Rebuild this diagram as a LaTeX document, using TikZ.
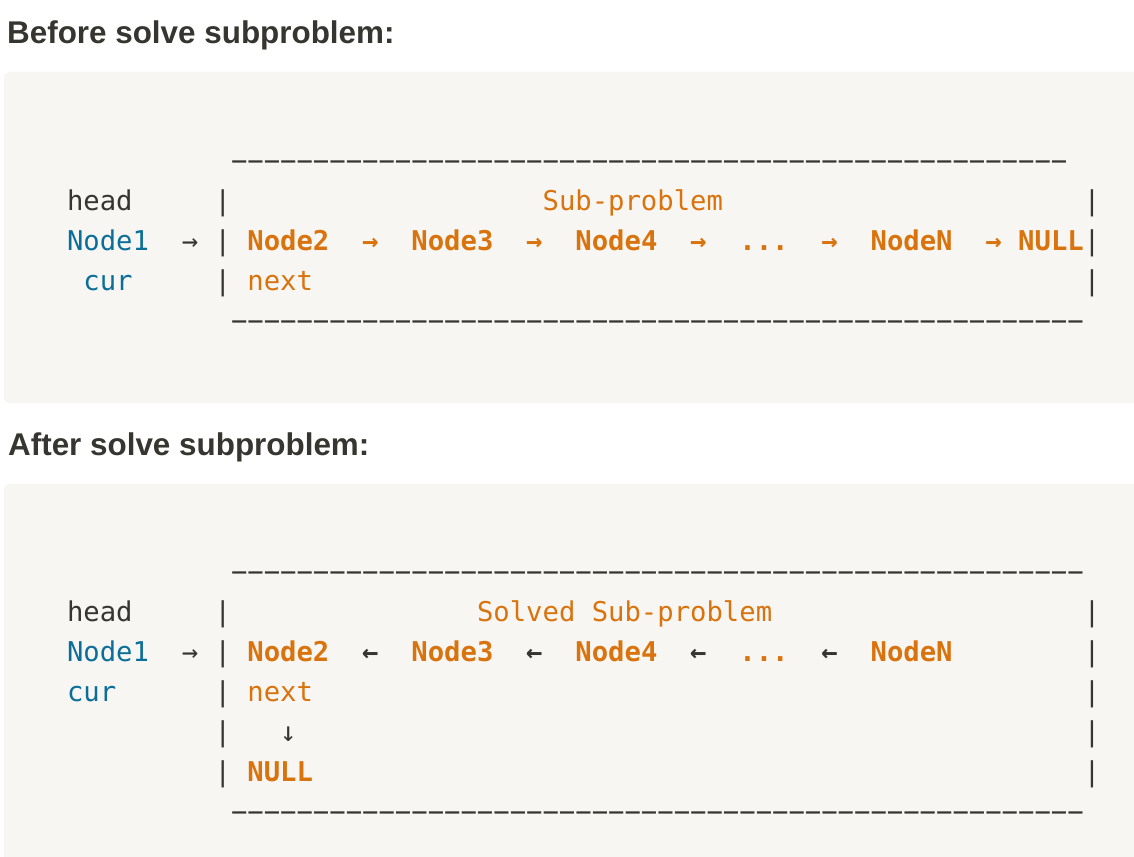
\documentclass[tikz,border=0pt]{standalone}
\usepackage{fontspec}
\setmainfont{Liberation Sans}
\newfontfamily\codefont{DejaVu Sans Mono}
\definecolor{pagebg}{HTML}{FFFFFF}
\definecolor{blockbg}{HTML}{F7F6F3}
\definecolor{headtext}{HTML}{37352F}
\definecolor{codedark}{HTML}{37352F}
\definecolor{nblue}{HTML}{0B6E99}
\definecolor{norange}{HTML}{D9730D}
\newcommand\codesize{\fontsize{27.24pt}{32pt}\selectfont}
\newcommand\tk[5]{\node[#1] (#2) at ({67+#3*16.4},#4) {#5};}
\newcommand\dashfifty{−−−−−−−−−−−−−−−−−−−−−−−−−−−−−−−−−−−−−−−−−−−−−−−−−−}
\tikzset{
  code/.style={anchor=base west, inner sep=0pt, outer sep=0pt, font=\codefont\codesize, text=codedark},
  codeb/.style={code, font=\codefont\bfseries\codesize},
  blu/.style={code, text=nblue},
  org/.style={code, text=norange},
  orgb/.style={codeb, text=norange},
  heading/.style={anchor=base west, inner sep=0pt, font=\bfseries\fontsize{31.4pt}{36pt}\selectfont, text=headtext},
  block/.style={fill=blockbg, draw=none, rounded corners=5pt}
}
\begin{document}
\begin{tikzpicture}[x=1pt,y=-1pt]
\useasboundingbox (0,0) rectangle (1134,856);
\clip (0,0) rectangle (1134,856);
\fill[pagebg] (0,0) rectangle (1134,856);
% headings
\node[heading] (h1) at (7,44) {Before solve subproblem:};
\node[heading] (h2) at (8,455) {After solve subproblem:};
% blocks
\path[block] (4,72) rectangle (1150,403);
\path[block] (4,484) rectangle (1150,880);
% ---------- Block 1 ----------
\tk{code}{a-top}{10}{170}{\dashfifty−}
\tk{code}{a-head}{0}{210}{head}
\tk{code}{a-b1l}{9}{210}{|}
\tk{org}{a-sub}{29}{210}{Sub-problem}
\tk{code}{a-b1r}{62}{210}{|}
\tk{blu}{a-n1}{0}{250}{Node1}
\tk{code}{a-ar0}{7}{250}{→}
\tk{code}{a-b2l}{9}{250}{|}
\tk{orgb}{a-n2}{11}{250}{Node2}
\tk{orgb}{a-ar1}{18}{250}{→}
\tk{orgb}{a-n3}{21}{250}{Node3}
\tk{orgb}{a-ar2}{28}{250}{→}
\tk{orgb}{a-n4}{31}{250}{Node4}
\tk{orgb}{a-ar3}{38}{250}{→}
\tk{orgb}{a-dots}{41}{250}{...}
\tk{orgb}{a-ar4}{46}{250}{→}
\tk{orgb}{a-nn}{49}{250}{NodeN}
\tk{orgb}{a-ar5}{56}{250}{→}
\tk{orgb}{a-null}{58}{250}{NULL}
\tk{code}{a-b2r}{62}{250}{|}
\tk{blu}{a-cur}{1}{290}{cur}
\tk{code}{a-b3l}{9}{290}{|}
\tk{org}{a-next}{11}{290}{next}
\tk{code}{a-b3r}{62}{290}{|}
\tk{code}{a-bot}{10}{330}{\dashfifty−−}
% ---------- Block 2 ----------
\tk{code}{b-top}{10}{581}{\dashfifty−−}
\tk{code}{b-head}{0}{621}{head}
\tk{code}{b-b1l}{9}{621}{|}
\tk{org}{b-sub}{25}{621}{Solved Sub-problem}
\tk{code}{b-b1r}{62}{621}{|}
\tk{blu}{b-n1}{0}{661}{Node1}
\tk{code}{b-ar0}{7}{661}{→}
\tk{code}{b-b2l}{9}{661}{|}
\tk{orgb}{b-n2}{11}{661}{Node2}
\tk{codeb}{b-ar1}{18}{661}{←}
\tk{orgb}{b-n3}{21}{661}{Node3}
\tk{codeb}{b-ar2}{28}{661}{←}
\tk{orgb}{b-n4}{31}{661}{Node4}
\tk{codeb}{b-ar3}{38}{661}{←}
\tk{orgb}{b-dots}{41}{661}{...}
\tk{codeb}{b-ar4}{46}{661}{←}
\tk{orgb}{b-nn}{49}{661}{NodeN}
\tk{code}{b-b2r}{62}{661}{|}
\tk{blu}{b-cur}{0}{701}{cur}
\tk{code}{b-b3l}{9}{701}{|}
\tk{org}{b-next}{11}{701}{next}
\tk{code}{b-b3r}{62}{701}{|}
\tk{code}{b-b4l}{9}{741}{|}
\tk{code}{b-down}{13}{741}{↓}
\tk{code}{b-b4r}{62}{741}{|}
\tk{code}{b-b5l}{9}{781}{|}
\tk{orgb}{b-null}{11}{781}{NULL}
\tk{code}{b-b5r}{62}{781}{|}
\tk{code}{b-bot}{10}{821}{\dashfifty−−}
\end{tikzpicture}
\end{document}
